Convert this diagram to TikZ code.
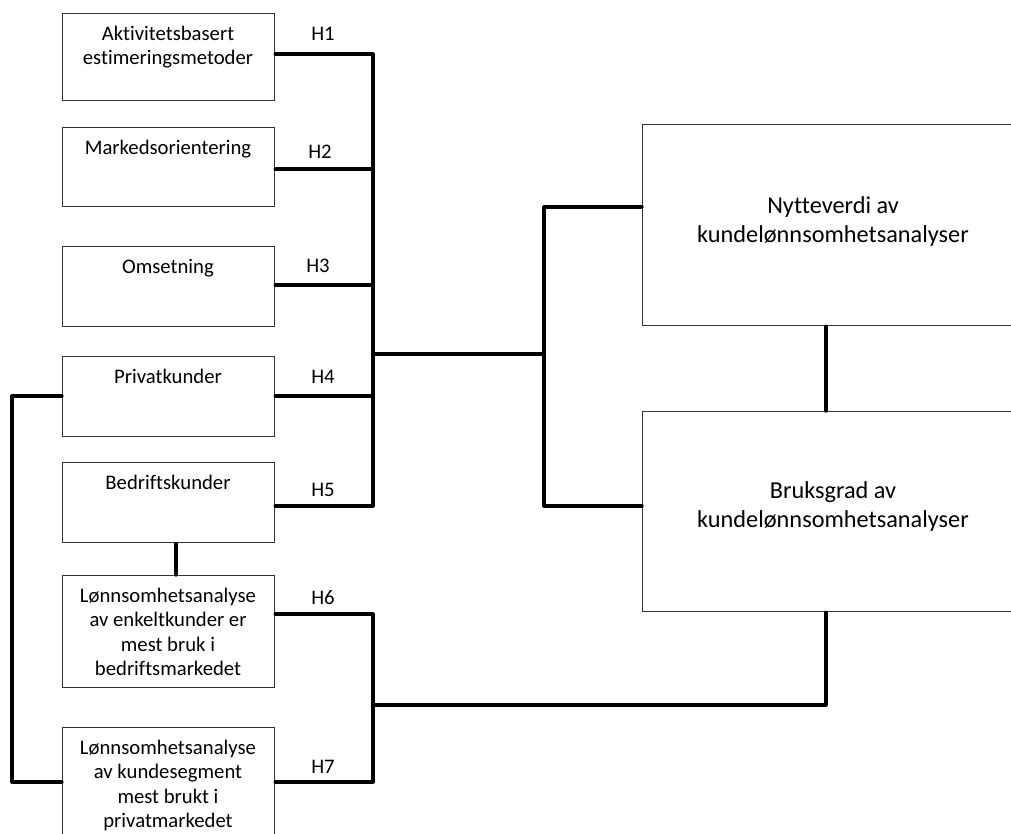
\documentclass[tikz,border=0pt]{standalone}
\usepackage{fontspec}
\setmainfont{Carlito}[Ligatures=NoCommon]
\begin{document}
\begin{tikzpicture}[x=1pt,y=-1pt,
  box/.style={draw=black!80,line width=1.2pt,fill=white,anchor=north west,inner sep=0pt},
  conn/.style={draw=black,line width=3.2pt,line cap=round,line join=round},
  ltxt/.style={anchor=base,align=center,font=\fontsize{20.7}{24.5}\selectfont,inner sep=0pt},
  rtxt/.style={anchor=base,align=center,font=\fontsize{24.3}{29}\selectfont,inner sep=0pt},
  hlab/.style={anchor=base,font=\fontsize{20.7}{24}\selectfont,inner sep=0pt}]
\useasboundingbox (0,0) rectangle (1011,833);
\clip (0,0) rectangle (1011,833);
\fill[white] (0,0) rectangle (1011,833);
% boxes
\node[box,minimum width=212pt,minimum height=87pt] (b1) at (62,13) {};
\node[box,minimum width=212pt,minimum height=79pt] (b2) at (62,127) {};
\node[box,minimum width=212pt,minimum height=80pt] (b3) at (62,246) {};
\node[box,minimum width=212pt,minimum height=80pt] (b4) at (62,356) {};
\node[box,minimum width=212pt,minimum height=80pt] (b5) at (62,462) {};
\node[box,minimum width=212pt,minimum height=112pt] (b6) at (62,575) {};
\node[box,minimum width=212pt,minimum height=130pt] (b7) at (62,727) {};
\node[box,minimum width=400pt,minimum height=201pt] (r1) at (642,124) {};
\node[box,minimum width=400pt,minimum height=200pt] (r2) at (642,411) {};
% texts (base anchor = baseline of last line)
\node[ltxt] (t1) at (168,64.5) {Aktivitetsbasert\\estimeringsmetoder};
\node[ltxt] (t2) at (168,154) {Markedsorientering};
\node[ltxt] (t3) at (168,273) {Omsetning};
\node[ltxt] (t4) at (168,383) {Privatkunder};
\node[ltxt] (t5) at (168,489) {Bedriftskunder};
\node[ltxt] (t6) at (168,675.5) {Lønnsomhetsanalyse\\av enkeltkunder er\\mest bruk i\\bedriftsmarkedet};
\node[ltxt] (t7) at (168,827.5) {Lønnsomhetsanalyse\\av kundesegment\\mest brukt i\\privatmarkedet};
\node[rtxt] (tr1) at (833,242) {Nytteverdi av\\kundelønnsomhetsanalyser};
\node[rtxt] (tr2) at (833,527) {Bruksgrad av\\kundelønnsomhetsanalyser};
% hypothesis labels
\node[hlab] (h1) at (323,40) {H1};
\node[hlab] (h2) at (320,158) {H2};
\node[hlab] (h3) at (318,272) {H3};
\node[hlab] (h4) at (323,383) {H4};
\node[hlab] (h5) at (323,496) {H5};
\node[hlab] (h6) at (323,604) {H6};
\node[hlab] (h7) at (323,773) {H7};
% coordinates
\coordinate (bus1) at (373,54);
\coordinate (bus2) at (373,169);
\coordinate (bus3) at (373,285);
\coordinate (bus4) at (373,396);
\coordinate (bus5) at (373,506);
\coordinate (busm) at (373,354);
\coordinate (fork) at (544,354);
\coordinate (forkt) at (544,207);
\coordinate (forkb) at (544,506);
\coordinate (bus6) at (373,614);
\coordinate (bus7) at (373,782);
\coordinate (busl) at (373,705);
\coordinate (lowr) at (826,705);
\coordinate (loopt) at (12,396);
\coordinate (loopb) at (12,782);
% connectors
\draw[conn] (b1.east |- bus1) -- (bus1) -- (bus5) -- (b5.east |- bus5);
\draw[conn] (b2.east |- bus2) -- (bus2);
\draw[conn] (b3.east |- bus3) -- (bus3);
\draw[conn] (b4.east |- bus4) -- (bus4);
\draw[conn] (busm) -- (fork);
\draw[conn] (r1.west |- forkt) -- (forkt) -- (forkb) -- (r2.west |- forkb);
\draw[conn] (r1.south -| lowr) -- (r2.north -| lowr);
\draw[conn] (b6.east |- bus6) -- (bus6) -- (bus7) -- (b7.east |- bus7);
\draw[conn] (busl) -- (lowr) -- (r2.south -| lowr);
\draw[conn] (b4.west |- loopt) -- (loopt) -- (loopb) -- (b7.west |- loopb);
\draw[conn] (b5.south -| 176,0) -- (b6.north -| 176,0);
\end{tikzpicture}
\end{document}
